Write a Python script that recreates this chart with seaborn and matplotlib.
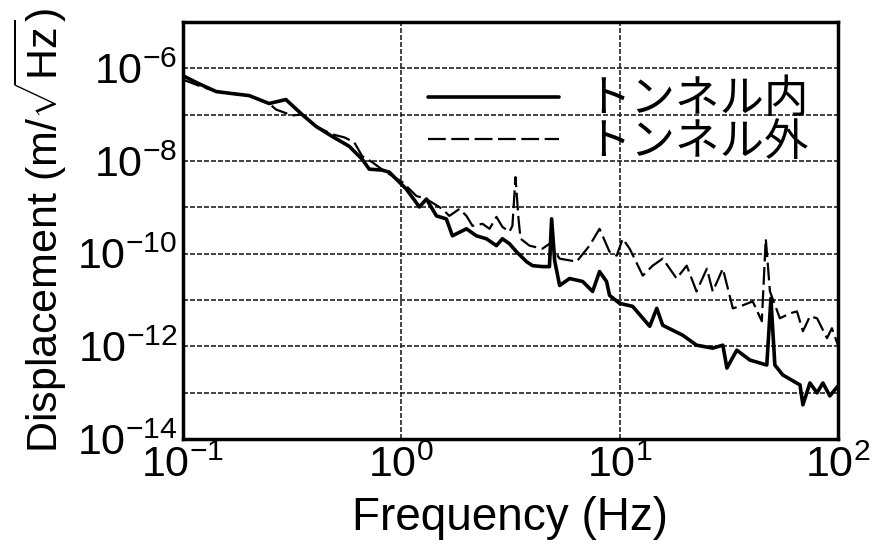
import numpy as np
import pandas as pd
import seaborn as sns
import matplotlib.pyplot as plt
from matplotlib.ticker import FixedLocator, NullFormatter, LogFormatterSciNotation

# データ
freq_in = [0.100, 0.118, 0.142, 0.168, 0.201, 0.248, 0.296, 0.351, 0.407, 0.482,
           0.577, 0.662, 0.713, 0.818, 0.881, 0.948, 1.054, 1.210, 1.303, 1.449,
           1.608, 1.714, 1.988, 2.207, 2.453, 2.727, 2.904, 3.127, 3.370, 3.745,
           3.990, 4.43, 4.77, 4.88, 5.04, 5.31, 5.90, 6.77, 7.52, 8.09,
           8.71, 8.99, 10.0, 11.47, 13.74, 14.79, 15.75, 19.45, 22.5, 26.7,
           29.7, 31.0, 34.4, 39.5, 47.2, 49.3, 51.4, 55.9, 67.0, 69.1,
           74.4, 80.2, 85.3, 91.8, 100.0]
disp_in = [6.93e-7, 4.68e-7, 3.15e-7, 2.85e-7, 2.58e-7, 1.74e-7, 2.12e-7, 1.01e-7, 5.58e-8, 3.40e-8,
           2.08e-8, 1.09e-8, 6.67e-9, 6.35e-9, 5.75e-9, 4.07e-9, 2.48e-9, 1.02e-9, 1.51e-9, 6.53e-10,
           5.64e-10, 2.43e-10, 3.44e-10, 2.43e-10, 2.10e-10, 1.49e-10, 2.10e-10, 1.64e-10, 1.10e-10, 6.73e-11,
           5.52e-11, 5.26e-11, 5.26e-11, 5.64e-10, 7.08e-11, 2.06e-11, 2.91e-11, 2.51e-11, 1.53e-11, 4.11e-11,
           2.51e-11, 1.26e-11, 8.46e-12, 7.29e-12, 2.71e-12, 6.61e-12, 2.85e-12, 1.74e-12, 1.06e-12, 9.15e-13,
           1.06e-12, 3.40e-13, 8.28e-13, 5.06e-13, 3.95e-13, 1.08e-11, 3.95e-13, 2.41e-13, 1.47e-13, 5.47e-14,
           1.62e-13, 9.91e-14, 1.62e-13, 8.53e-14, 1.40e-13]

freq_out = [0.100, 0.118, 0.142, 0.201, 0.248, 0.267, 0.316, 0.351, 0.407, 0.482,
            0.548, 0.609, 0.662, 0.736, 0.836, 1.011, 1.172, 1.303, 1.541, 1.660,
            1.845, 1.988, 2.118, 2.355, 2.535, 2.727, 2.904, 3.127, 3.228, 3.334,
            3.443, 3.516, 3.866, 4.43, 4.77, 5.31, 6.35, 7.28, 8.09, 8.99,
            9.69, 10.33, 11.12, 12.76, 14.17, 15.75, 18.24, 20.28, 22.5, 25.1,
            26.7, 29.7, 33.0, 36.6, 40.7, 44.8, 46.7, 48.8, 54.2, 60.3,
            64.9, 69.1, 74.4, 80.2, 89.1, 93.8, 100.0]
disp_out = [5.69e-7, 4.24e-7, 3.15e-7, 2.58e-7, 1.74e-7, 1.29e-7, 9.62e-8, 1.01e-7, 5.58e-8, 3.76e-8,
            3.24e-8, 2.53e-8, 1.27e-8, 9.42e-9, 6.04e-9, 3.51e-9, 1.76e-9, 1.51e-9, 9.24e-10, 6.53e-10,
            9.24e-10, 6.53e-10, 3.99e-10, 4.41e-10, 3.44e-10, 6.22e-10, 3.79e-10, 2.96e-10, 3.99e-10, 4.49e-9,
            5.64e-10, 2.10e-10, 1.49e-10, 1.28e-10, 1.64e-10, 7.82e-11, 6.73e-11, 1.49e-10, 3.44e-10, 1.10e-10,
            9.06e-11, 2.10e-10, 1.28e-10, 3.37e-11, 5.52e-11, 7.82e-11, 2.91e-11, 5.52e-11, 1.53e-11, 4.76e-11,
            1.53e-11, 4.76e-11, 6.61e-12, 7.66e-12, 9.33e-12, 3.48e-12, 2.10e-10, 1.53e-11, 4.03e-12, 5.15e-12,
            5.69e-12, 2.12e-12, 4.45e-12, 4.03e-12, 1.50e-12, 2.46e-12, 1.06e-12]

labels = ['トンネル内', 'トンネル外']
x_ticks = [0.1, 1, 10, 100]
y_major = [1e-14, 1e-12, 1e-10, 1e-8, 1e-6]
y_minor = [1e-13, 1e-11, 1e-9, 1e-7]

df_in = pd.DataFrame({'f': freq_in, 'd': disp_in})
df_out = pd.DataFrame({'f': freq_out, 'd': disp_out})

sns.set_style('white')
plt.rcParams['font.family'] = ['Liberation Sans', 'Noto Sans CJK JP']
plt.rcParams['mathtext.fontset'] = 'custom'
plt.rcParams['mathtext.rm'] = 'Liberation Sans'
plt.rcParams['axes.unicode_minus'] = True
plt.rcParams['text.color'] = 'black'
plt.rcParams['axes.labelcolor'] = 'black'
plt.rcParams['xtick.color'] = 'black'
plt.rcParams['ytick.color'] = 'black'

fig = plt.figure(figsize=(8.78, 5.47), dpi=100)
ax = fig.add_axes([0.2084, 0.1974, 0.746, 0.7624])

sns.lineplot(data=df_in, x='f', y='d', ax=ax, color='black', lw=2.6, label=labels[0])
sns.lineplot(data=df_out, x='f', y='d', ax=ax, color='black', lw=1.6,
             dashes=False, label=labels[1])
ax.lines[1].set_dashes((8, 2.5))

ax.set_xscale('log')
ax.set_yscale('log')
ax.set_xlim(0.1, 100)
ax.set_ylim(1e-14, 1e-5)

ax.xaxis.set_major_locator(FixedLocator(x_ticks))
ax.xaxis.set_minor_locator(FixedLocator([]))
ax.xaxis.set_major_formatter(LogFormatterSciNotation())
ax.yaxis.set_major_locator(FixedLocator(y_major))
ax.yaxis.set_minor_locator(FixedLocator(y_minor))
ax.yaxis.set_major_formatter(LogFormatterSciNotation())
ax.yaxis.set_minor_formatter(NullFormatter())

ax.grid(True, which='major', axis='x', color='#222222', lw=1.2, ls=(0, (3, 1.2)))
ax.grid(True, which='both', axis='y', color='#222222', lw=1.2, ls=(0, (3, 1.2)))
ax.tick_params(axis='both', which='both', length=0, labelsize=31)
ax.tick_params(axis='x', pad=5)
ax.tick_params(axis='y', pad=4)

for s in ax.spines.values():
    s.set_color('black')
    s.set_linewidth(2.5)

ax.set_xlabel('Frequency (Hz)', fontsize=33, labelpad=7)
ax.set_ylabel(r'Displacement (m/$\sqrt{\mathrm{Hz}}$)', fontsize=31, labelpad=6)

leg = ax.legend(loc='upper right', bbox_to_anchor=(0.955, 0.87), frameon=False,
                prop={'family': ['Noto Sans CJK JP'], 'size': 32},
                handlelength=2.95, handletextpad=0.6, labelspacing=-0.08,
                borderpad=0, borderaxespad=0)

fig.savefig('out.png', dpi=100)
